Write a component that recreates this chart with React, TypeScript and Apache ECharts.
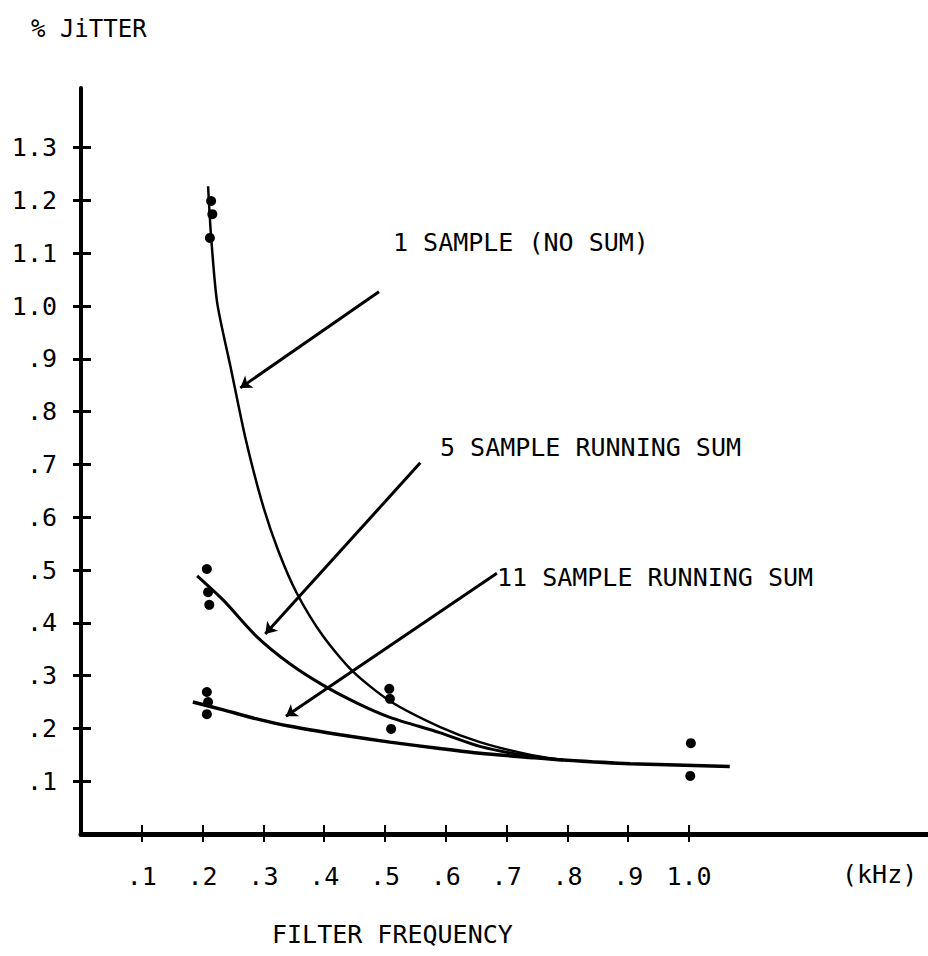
import React, { useEffect, useRef } from "react";
import * as echarts from "echarts";

// Axis ticks (kHz and % jitter)
const xTicks = [0.1, 0.2, 0.3, 0.4, 0.5, 0.6, 0.7, 0.8, 0.9, 1.0];
const yTicks = [0.1, 0.2, 0.3, 0.4, 0.5, 0.6, 0.7, 0.8, 0.9, 1.0, 1.1, 1.2, 1.3];

// Measured points [filter frequency kHz, % jitter]
const measuredPoints = [
  [0.214, 1.199], [0.216, 1.174], [0.212, 1.129],
  [0.207, 0.502], [0.209, 0.458], [0.211, 0.434],
  [0.207, 0.269], [0.209, 0.25], [0.207, 0.227],
  [0.507, 0.275], [0.508, 0.256], [0.51, 0.199],
  [1.003, 0.172], [1.002, 0.11],
];

// Hand-drawn fitted curves
const oneSampleCurve = [
  [0.209, 1.227], [0.214, 1.131], [0.224, 1.006], [0.247, 0.879], [0.27, 0.752],
  [0.298, 0.627], [0.324, 0.538], [0.355, 0.456], [0.398, 0.375], [0.447, 0.308],
  [0.508, 0.252], [0.59, 0.203], [0.656, 0.174], [0.738, 0.15], [0.793, 0.14],
];
const fiveSampleCurve = [
  [0.191, 0.489], [0.234, 0.443], [0.289, 0.374], [0.344, 0.322], [0.398, 0.282],
  [0.454, 0.248], [0.508, 0.221], [0.59, 0.192], [0.656, 0.166], [0.738, 0.147],
  [0.793, 0.14],
];
const elevenSampleCurve = [
  [0.184, 0.25], [0.234, 0.235], [0.289, 0.218], [0.344, 0.204], [0.426, 0.188],
  [0.508, 0.174], [0.59, 0.162], [0.656, 0.153], [0.738, 0.145], [0.793, 0.14],
  [0.903, 0.133], [1.067, 0.128],
];

// Annotation arrows: [from, to] in data units
const arrowOne = [[0.49, 1.027], [0.262, 0.845]];
const arrowFive = [[0.558, 0.703], [0.303, 0.379]];
const arrowEleven = [[0.684, 0.494], [0.337, 0.223]];

const annotationLabels = ["1 SAMPLE (NO SUM)", "5 SAMPLE RUNNING SUM", "11 SAMPLE RUNNING SUM"];

const FONT = "DejaVu Sans Mono";
const INK = "#000";

const fmt = (v: number) => {
  const r = Math.round(v * 10) / 10;
  if (r >= 1) return r.toFixed(1);
  return "." + Math.round(r * 10);
};

export default function App() {
  const ref = useRef<HTMLDivElement>(null);
  useEffect(() => {
    if (!ref.current) return;
    const chart = echarts.init(ref.current, undefined, { renderer: "svg" });
    const textStyle = { fontFamily: FONT, fontSize: 25, color: INK };
    const curve = (name: string, data: number[][], width: number) => ({
      name,
      type: "line",
      data,
      smooth: 0.25,
      showSymbol: false,
      symbol: "none",
      lineStyle: { color: INK, width },
      z: 3,
    });
    const arrow = (name: string, coords: number[][]) => ({
      name,
      type: "lines",
      coordinateSystem: "cartesian2d",
      data: [{ coords }],
      symbol: ["none", "arrow"],
      symbolSize: 11,
      lineStyle: { color: INK, width: 3, opacity: 1 },
      z: 4,
    });
    chart.setOption({
      animation: false,
      backgroundColor: "#fff",
      title: {
        text: "% JiTTER",
        left: 26,
        top: 12,
        textStyle: { fontFamily: FONT, fontSize: 24, fontWeight: "normal", color: INK },
      },
      grid: { left: 81, right: 0, top: 88, bottom: 122, containLabel: false },
      xAxis: [
        {
          type: "value",
          min: 0,
          max: 1.393,
          splitLine: { show: false },
          axisLine: { show: true, onZero: false, lineStyle: { color: INK, width: 5 } },
          axisTick: { show: true, customValues: xTicks, length: 8, lineStyle: { color: INK, width: 2 } },
          axisLabel: { customValues: xTicks, formatter: fmt, margin: 30, ...textStyle },
        },
        {
          type: "value",
          position: "bottom",
          min: 0,
          max: 1.393,
          splitLine: { show: false },
          axisLine: { show: false },
          axisTick: { show: true, inside: true, customValues: xTicks, length: 9, lineStyle: { color: INK, width: 2 } },
          axisLabel: { show: false },
        },
      ],
      yAxis: [
        {
          type: "value",
          min: 0,
          max: 1.413,
          splitLine: { show: false },
          axisLine: { show: true, onZero: false, lineStyle: { color: INK, width: 4 } },
          axisTick: { show: true, customValues: yTicks, length: 8, lineStyle: { color: INK, width: 3 } },
          axisLabel: { customValues: yTicks, formatter: fmt, margin: 24, ...textStyle },
        },
        {
          type: "value",
          position: "left",
          min: 0,
          max: 1.413,
          splitLine: { show: false },
          axisLine: { show: false },
          axisTick: { show: true, inside: true, customValues: yTicks, length: 10, lineStyle: { color: INK, width: 3 } },
          axisLabel: { show: false },
        },
      ],
      series: [
        curve("1 sample (no sum)", oneSampleCurve, 2.5),
        curve("5 sample running sum", fiveSampleCurve, 3),
        curve("11 sample running sum", elevenSampleCurve, 3.5),
        {
          name: "Measured",
          type: "scatter",
          data: measuredPoints,
          symbol: "circle",
          symbolSize: 10,
          itemStyle: { color: INK, opacity: 1 },
          z: 5,
        },
        arrow("arrow 1", arrowOne),
        arrow("arrow 5", arrowFive),
        arrow("arrow 11", arrowEleven),
      ],
      graphic: [
        { type: "text", left: 393, top: 230, style: { text: annotationLabels[0], font: `25px ${FONT}`, fill: INK } },
        { type: "text", left: 440, top: 435, style: { text: annotationLabels[1], font: `25px ${FONT}`, fill: INK } },
        { type: "text", left: 497, top: 565, style: { text: annotationLabels[2], font: `25px ${FONT}`, fill: INK } },
        { type: "text", left: 842, top: 862, style: { text: "(kHz)", font: `25px ${FONT}`, fill: INK } },
        { type: "text", left: 272, top: 922, style: { text: "FILTER FREQUENCY", font: `25px ${FONT}`, fill: INK } },
      ],
    });
    return () => chart.dispose();
  }, []);
  return (
    <div
      ref={ref}
      style={{ position: "fixed", left: 0, top: 0, width: 928, height: 956, background: "#fff" }}
    />
  );
}
